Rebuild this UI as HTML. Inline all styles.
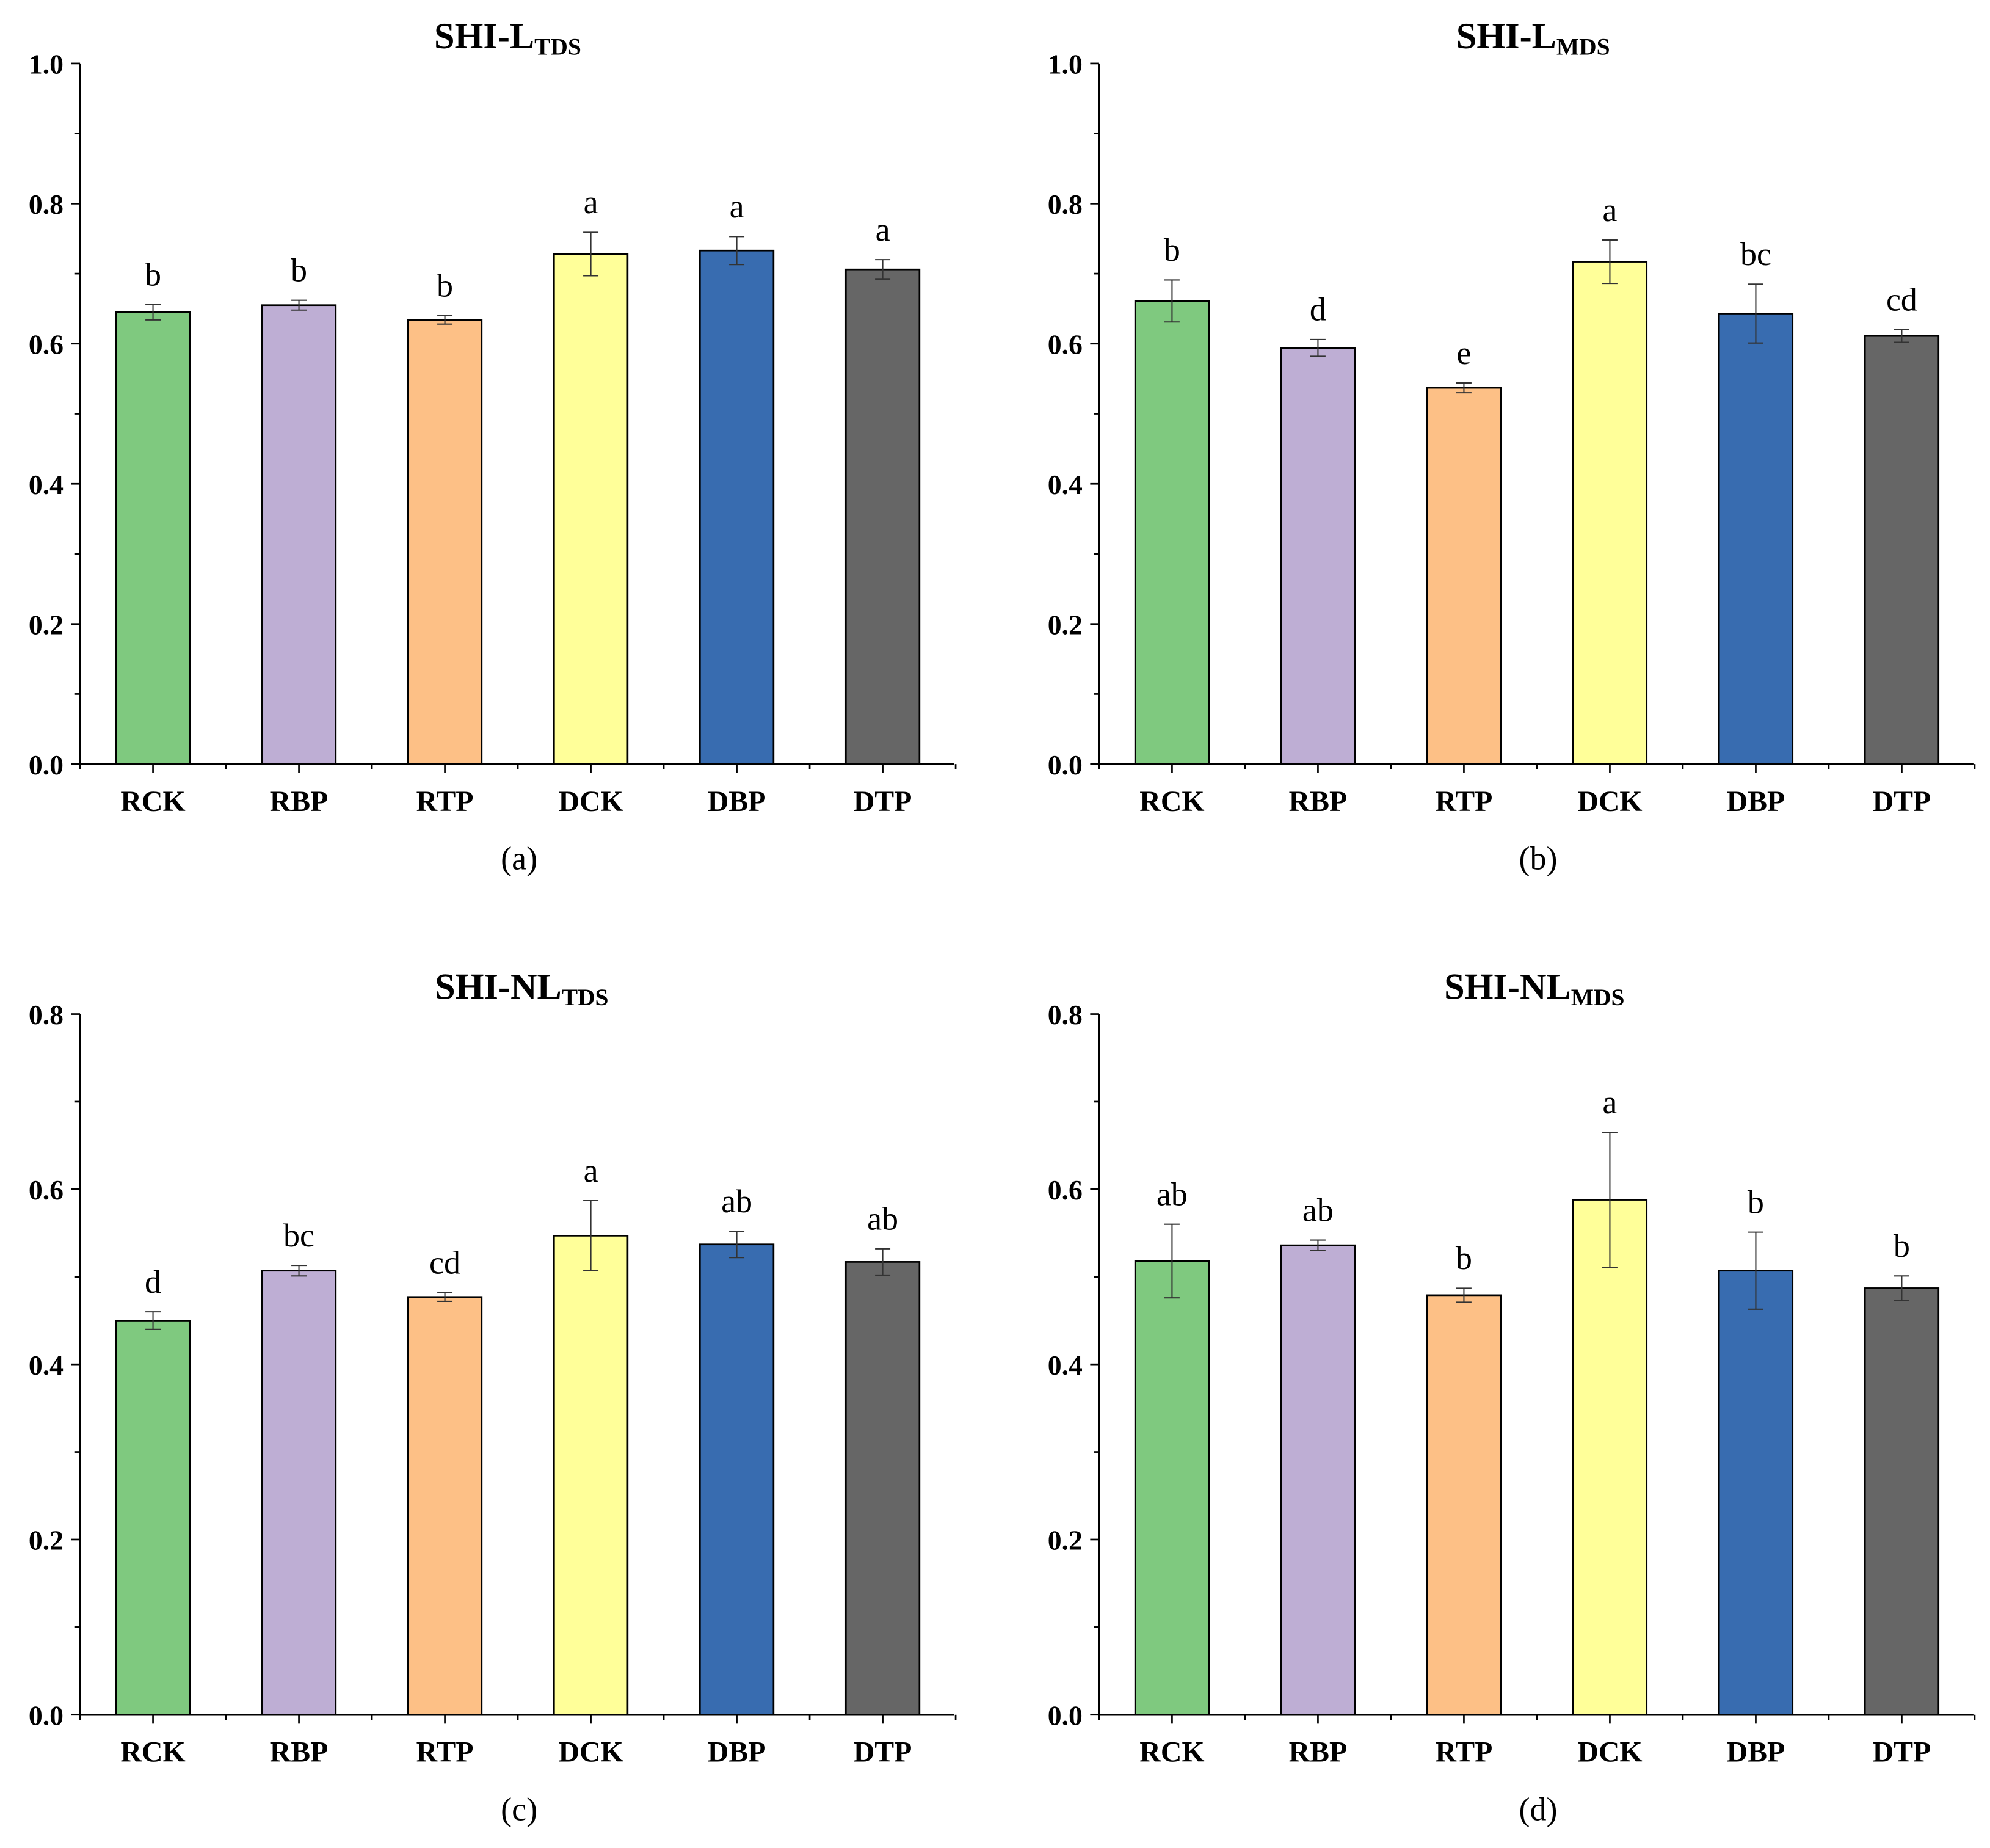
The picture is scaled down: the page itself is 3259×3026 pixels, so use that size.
<!DOCTYPE html>
<html><head><meta charset="utf-8"><style>
html,body{margin:0;padding:0;background:#fff;}
svg{display:block;font-family:"Liberation Serif",serif;}
</style></head><body>
<svg id="fig" width="3259" height="3026" viewBox="0 0 1568 1456" xmlns="http://www.w3.org/2000/svg"></svg>
<script>
const categories = ["RCK","RBP","RTP","DCK","DBP","DTP"];
const colors = ["#7fc97f","#beaed4","#fdc086","#ffff99","#386cb0","#666666"];
const valuesA = [0.645,0.655,0.634,0.728,0.733,0.706];
const errorsA = [0.011,0.007,0.006,0.031,0.020,0.014];
const lettersA = ["b","b","b","a","a","a"];
const valuesB = [0.661,0.594,0.537,0.717,0.643,0.611];
const errorsB = [0.030,0.012,0.007,0.031,0.042,0.009];
const lettersB = ["b","d","e","a","bc","cd"];
const valuesC = [0.450,0.507,0.477,0.547,0.537,0.517];
const errorsC = [0.010,0.006,0.005,0.040,0.015,0.015];
const lettersC = ["d","bc","cd","a","ab","ab"];
const valuesD = [0.518,0.536,0.479,0.588,0.507,0.487];
const errorsD = [0.042,0.006,0.008,0.077,0.044,0.014];
const lettersD = ["ab","ab","b","a","b","b"];
const ticks10 = ["0.0","0.2","0.4","0.6","0.8","1.0"];
const ticks08 = ["0.0","0.2","0.4","0.6","0.8"];

const NS="http://www.w3.org/2000/svg";
const svg=document.getElementById('fig');
function mk(tag,attrs,parent,text){const e=document.createElementNS(NS,tag);for(const k in attrs)e.setAttribute(k,attrs[k]);if(text!==undefined)e.textContent=text;(parent||svg).appendChild(e);return e;}

function panel(key,ox,oy,ymax,ticks,vals,errs,lets,title,sub,label,titleX){
  const g=mk('g',{},svg);
  
  
  const x0=ox, top=oy, bot=oy+552, xEnd=ox+689, step=115, bw=58;
  const y=v=>bot-(v/ymax)*(bot-top);
  const xc=i=>x0+57.5+i*step;
  vals.forEach((v,i)=>{
    const r=mk('rect',{x:xc(i)-bw/2,y:y(v),width:bw,height:bot-y(v),fill:colors[i],stroke:'#000','stroke-width':1.3},g);
    
    
    const e=errs[i], yt=y(v+e), yb=y(v-e);
    const eb=mk('path',{d:`M${xc(i)},${yt}V${yb}M${xc(i)-6},${yt}H${xc(i)+6}M${xc(i)-6},${yb}H${xc(i)+6}`,stroke:'#333','stroke-width':1,fill:'none'},g);
    
    
    const t=mk('text',{x:xc(i),y:yt-15,'text-anchor':'middle','font-size':26},g,lets[i]);
    
    
    const c=mk('text',{x:xc(i),y:bot+37,'text-anchor':'middle','font-size':23,'font-weight':'bold'},g,categories[i]);
    
    
    mk('line',{x1:xc(i),x2:xc(i),y1:bot,y2:bot+7,stroke:'#000','stroke-width':1.3},g);
    mk('line',{x1:xc(i)+step/2,x2:xc(i)+step/2,y1:bot,y2:bot+4,stroke:'#000','stroke-width':1.3},g);
  });
  mk('line',{x1:x0,x2:x0,y1:bot,y2:bot+4,stroke:'#000','stroke-width':1.3},g);
  const nMinor=Math.round(ymax/0.1);
  for(let k=0;k<=nMinor;k++){
    const v=k*0.1, major=k%2===0;
    mk('line',{x1:x0-(major?7:4),x2:x0,y1:y(v),y2:y(v),stroke:'#000','stroke-width':1.3},g);
  }
  ticks.forEach(tl=>{
    const t=mk('text',{x:x0-13,y:y(parseFloat(tl))+8,'text-anchor':'end','font-size':22,'font-weight':'bold'},g,tl);
    
    
  });
  const ax=mk('path',{d:`M${x0},${top}V${bot}H${xEnd}`,stroke:'#000','stroke-width':1.6,fill:'none'},g);
  
  
  const tt=mk('text',{x:titleX,y:top-12,'text-anchor':'middle','font-size':29,'font-weight':'bold'},g);
  
  
  mk('tspan',{},tt,title);
  mk('tspan',{'font-size':19,dy:5},tt,sub);
  const pl=mk('text',{x:x0+346,y:bot+83,'text-anchor':'middle','font-size':26},g,label);
  
  
}
panel('a',63,50,1.0,ticks10,valuesA,errorsA,lettersA,'SHI-L','TDS','(a)',400);
panel('b',866,50,1.0,ticks10,valuesB,errorsB,lettersB,'SHI-L','MDS','(b)',1208);
panel('c',63,799,0.8,ticks08,valuesC,errorsC,lettersC,'SHI-NL','TDS','(c)',411);
panel('d',866,799,0.8,ticks08,valuesD,errorsD,lettersD,'SHI-NL','MDS','(d)',1209);
</script>
</body></html>
